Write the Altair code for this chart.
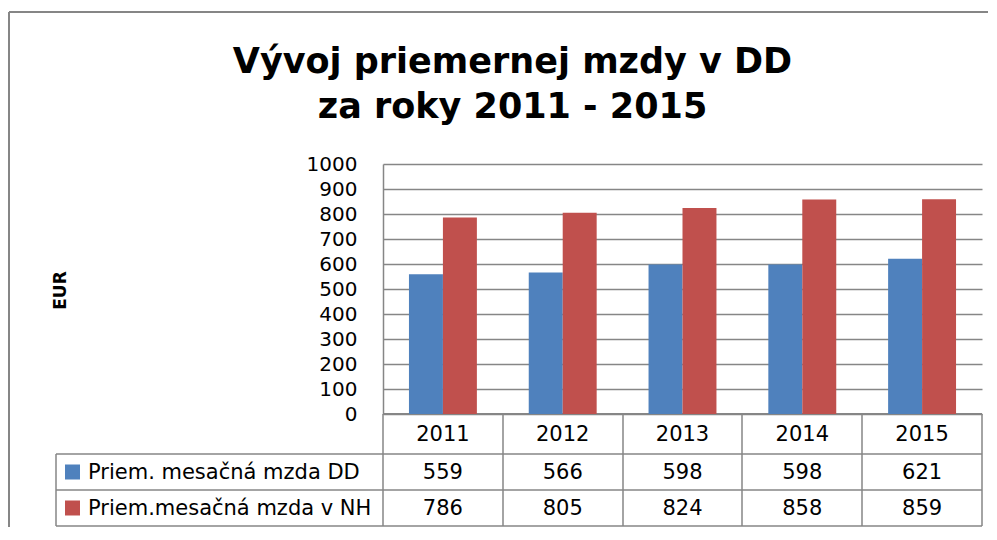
import altair as alt
import pandas as pd

# ---- data ----
years = ["2011", "2012", "2013", "2014", "2015"]
series = ["Priem. mesačná mzda DD", "Priem.mesačná mzda v NH"]
dd_values = [559, 566, 598, 598, 621]
nh_values = [786, 805, 824, 858, 859]
title_lines = ["Vývoj priemernej mzdy v DD", "za roky 2011 - 2015"]
y_ticks = [0, 100, 200, 300, 400, 500, 600, 700, 800, 900, 1000]
colors = ["#4F81BD", "#C0504D"]

df = pd.DataFrame({
    "year": years * 2,
    "series": [series[0]] * len(years) + [series[1]] * len(years),
    "value": dd_values + nh_values,
})
year_df = pd.DataFrame({"year": years})
legend_df = pd.DataFrame({"series": series})
one = pd.DataFrame({"k": [0]})

# ---- layout (pixels, relative to plot area) ----
W, H = 599, 250
GRAY = "#868686"
FONT = "DejaVu Sans"
row_top = H             # header row top
row1_top = H + 40
row_h = 36
row2_top = row1_top + row_h
table_bottom = row2_top + row_h
label_left = -327
cell_w = W / len(years)

x_scale = alt.Scale(domain=years, paddingInner=0.433, paddingOuter=0.2167)
color_scale = alt.Scale(domain=series, range=colors)
X = alt.X("year:N", scale=x_scale, axis=None)

bars = alt.Chart(df).mark_bar().encode(
    x=X,
    xOffset=alt.XOffset("series:N", scale=alt.Scale(domain=series, paddingInner=0, paddingOuter=0)),
    y=alt.Y(
        "value:Q",
        scale=alt.Scale(domain=[0, 1000]),
        axis=alt.Axis(
            values=y_ticks, format="d", grid=True, gridColor=GRAY, gridWidth=1.5,
            domain=True, domainColor=GRAY, domainWidth=1.5, ticks=False,
            labelFont=FONT, labelFontSize=20, labelColor="black", labelPadding=26,
            labelFlush=False, labelOverlap=False,
            title="EUR", titleFont=FONT, titleFontSize=17, titleFontWeight="bold",
            titleColor="black", titleX=-323, titleY=126, titleAngle=270,
            titleAlign="center", titleBaseline="middle",
        ),
    ),
    color=alt.Color("series:N", scale=color_scale, legend=None),
)


def rule(x1, y1, x2, y2, w=1.5):
    return alt.Chart(one).mark_rule(color=GRAY, strokeWidth=w).encode(
        x=alt.value(x1), y=alt.value(y1), x2=alt.value(x2), y2=alt.value(y2)
    )


layers = []
# outer frame
layers.append(rule(-374, -152, 620, -152, 2))
layers.append(rule(-374, -152, -374, 400, 2))
# table grid
layers.append(rule(0, row_top, W, row_top, 2))
for yy in (row1_top, row2_top, table_bottom):
    layers.append(rule(label_left, yy, W, yy))
layers.append(rule(label_left, row1_top, label_left, table_bottom))
for i in range(len(years) + 1):
    xx = round(i * cell_w)
    layers.append(rule(xx, row_top, xx, table_bottom))

layers.append(bars)

# header years
layers.append(
    alt.Chart(year_df).mark_text(font=FONT, fontSize=21, color="black", baseline="middle").encode(
        x=X, y=alt.value((row_top + row1_top) / 2 + 1), text="year:N"
    )
)

# table rows
for i, s in enumerate(series):
    yc = row1_top + row_h / 2 + row_h * i + 1
    layers.append(
        alt.Chart(legend_df).transform_filter(alt.datum.series == s).mark_square(size=225, opacity=1).encode(
            x=alt.value(-310.5), y=alt.value(yc - 1),
            color=alt.Color("series:N", scale=color_scale, legend=None),
        )
    )
    layers.append(
        alt.Chart(legend_df).transform_filter(alt.datum.series == s).mark_text(
            font=FONT, fontSize=21, color="black", align="left", baseline="middle"
        ).encode(x=alt.value(-295), y=alt.value(yc), text="series:N")
    )
    layers.append(
        alt.Chart(df).transform_filter(alt.datum.series == s).mark_text(
            font=FONT, fontSize=21, color="black", baseline="middle"
        ).encode(x=X, y=alt.value(yc), text="value:Q")
    )

# title (one two-line text)
layers.append(
    alt.Chart(one).mark_text(
        font="DejaVu Sans", fontSize=35, fontWeight="bold", color="black",
        align="center", baseline="alphabetic", lineHeight=45
    ).encode(x=alt.value(129.5), y=alt.value(-91), text=alt.value(title_lines))
)

chart = alt.layer(*layers).properties(
    width=W, height=H,
    autosize=alt.AutoSizeParams(type="none"),
    padding={"left": 375, "top": 156, "right": 6, "bottom": 113},
    background="white",
).configure_view(stroke="transparent")

chart.save("out.html", embed_options={"renderer": "svg", "actions": False})
